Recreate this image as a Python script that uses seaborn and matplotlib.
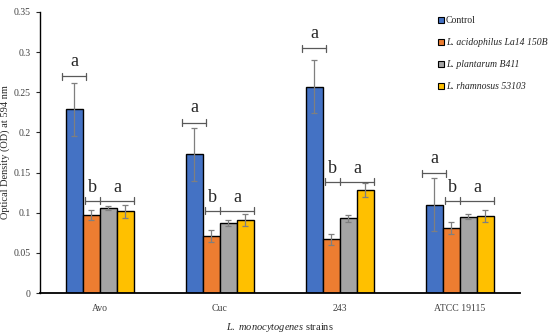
# =========================================================
# IMPORT LIBRARY
# =========================================================

import pandas as pd
import matplotlib.pyplot as plt
import seaborn as sns
from matplotlib.lines import Line2D

# =========================================================
# DATA
# =========================================================

strains = ['Avo', 'Cuc', '243', 'ATCC 19115']

treatments = [
    'Control',
    'L. acidophilus La14 150B',
    'L. plantarum B411',
    'L. rhamnosus 53103'
]

control_od = [0.229, 0.173, 0.257, 0.110]
acidophilus_od = [0.097, 0.071, 0.067, 0.081]
plantarum_od = [0.106, 0.087, 0.093, 0.095]
rhamnosus_od = [0.102, 0.091, 0.128, 0.096]

control_err = [0.033, 0.033, 0.033, 0.033]
acidophilus_err = [0.006, 0.007, 0.007, 0.007]
plantarum_err = [0.003, 0.004, 0.004, 0.003]
rhamnosus_err = [0.008, 0.008, 0.009, 0.008]

# tinggi garis signifikansi
control_bracket = [0.270, 0.212, 0.305, 0.149]
probiotic_bracket = [0.115, 0.1025, 0.1385, 0.115]

control_letter = ['a', 'a', 'a', 'a']
left_letter = ['b', 'b', 'b', 'b']
right_letter = ['a', 'a', 'a', 'a']

yticks = [0, 0.05, 0.1, 0.15, 0.2, 0.25, 0.3, 0.35]
ytick_labels = ['0', '0.05', '0.1', '0.15', '0.2', '0.25', '0.3', '0.35']

colors = ['#4472C4', '#ED7D31', '#A5A5A5', '#FFC000']

# =========================================================
# DATAFRAME
# =========================================================

df = pd.DataFrame({
    'Strain': strains * 4,
    'Treatment': [t for t in treatments for _ in strains],
    'OD': control_od + acidophilus_od + plantarum_od + rhamnosus_od,
    'Err': control_err + acidophilus_err + plantarum_err + rhamnosus_err
})

# =========================================================
# STYLE
# =========================================================

sns.set_style('white')
plt.rcParams['font.family'] = ['Liberation Serif', 'DejaVu Serif']
plt.rcParams['mathtext.fontset'] = 'custom'
plt.rcParams['mathtext.rm'] = 'Liberation Serif'
plt.rcParams['mathtext.it'] = 'Liberation Serif:italic'

fig = plt.figure(figsize=(5.5, 3.33), dpi=100)
ax = fig.add_axes([0.0727, 0.12, 0.8727, 0.844])

# =========================================================
# BARPLOT
# =========================================================

sns.barplot(
    data=df,
    x='Strain',
    y='OD',
    hue='Treatment',
    hue_order=treatments,
    order=strains,
    palette=colors,
    saturation=1,
    width=0.567,
    errorbar=None,
    edgecolor='black',
    linewidth=1.0,
    legend=False,
    ax=ax
)

# error bar dari posisi bar
err_lists = [control_err, acidophilus_err, plantarum_err, rhamnosus_err]
centers = []
for cont, errs in zip(ax.containers, err_lists):
    xs = [b.get_x() + b.get_width() / 2 for b in cont]
    hs = [b.get_height() for b in cont]
    centers.append(xs)
    ax.errorbar(xs, hs, yerr=errs, fmt='none', ecolor='#7f7f7f',
                elinewidth=0.9, capsize=2.2, capthick=0.9, zorder=5)

bar_w = ax.containers[0][0].get_width()

# =========================================================
# BRACKET SIGNIFIKANSI
# =========================================================

def bracket(x0, x1, y, ticks):
    ax.plot([x0, x1], [y, y], color='#595959', lw=0.9, zorder=6)
    for xt in ticks:
        ax.plot([xt, xt], [y - 0.0045, y + 0.0045], color='#595959', lw=0.9, zorder=6)

for i in range(len(strains)):
    # kontrol
    xc = centers[0][i]
    bracket(xc - 0.1, xc + 0.1, control_bracket[i], [xc - 0.1, xc + 0.1])
    ax.text(xc, control_bracket[i] + 0.008, control_letter[i],
            ha='center', va='bottom', fontsize=13)

    # probiotik
    xl = centers[1][i] - bar_w / 2 + 0.02
    xm = centers[1][i] + bar_w / 2
    xr = centers[3][i] + bar_w / 2
    yb = probiotic_bracket[i]
    bracket(xl, xr, yb, [xl, xm, xr])
    ax.text((xl + xm) / 2, yb + 0.006, left_letter[i],
            ha='center', va='bottom', fontsize=13)
    ax.text((xm + xr) / 2, yb + 0.006, right_letter[i],
            ha='center', va='bottom', fontsize=13)

# =========================================================
# AXIS
# =========================================================

ax.set_xlim(-0.5, 3.5)
ax.set_ylim(0, 0.35)
ax.set_yticks(yticks)
ax.set_yticklabels(ytick_labels)

ax.tick_params(axis='y', direction='out', length=3, width=0.8,
               labelsize=7, labelcolor='#404040', left=True)
ax.tick_params(axis='x', length=0, labelsize=7, labelcolor='#404040', pad=8)

for s in ['top', 'right']:
    ax.spines[s].set_visible(False)
ax.spines['left'].set_color('black')
ax.spines['left'].set_linewidth(1.0)
ax.spines['bottom'].set_color('black')
ax.spines['bottom'].set_linewidth(1.3)

ax.set_ylabel('Optical Density (OD) at 594 nm', fontsize=7.5, labelpad=3)
ax.set_xlabel(r'$\it{L.\ monocytogenes}$ strains', fontsize=7.5, labelpad=6)

# =========================================================
# LEGEND
# =========================================================

handles = [
    Line2D([], [], marker='s', linestyle='none', markersize=4.5,
           markerfacecolor=c, markeredgecolor='black', markeredgewidth=0.8)
    for c in colors
]
leg = ax.legend(handles, treatments, loc='upper left',
                bbox_to_anchor=(0.815, 1.01), frameon=False,
                fontsize=7, labelspacing=1.35, handlelength=0.6,
                handletextpad=0.2, borderaxespad=0.3)
for t in leg.get_texts()[1:]:
    t.set_fontstyle('italic')

plt.savefig('out.png', dpi=100)
